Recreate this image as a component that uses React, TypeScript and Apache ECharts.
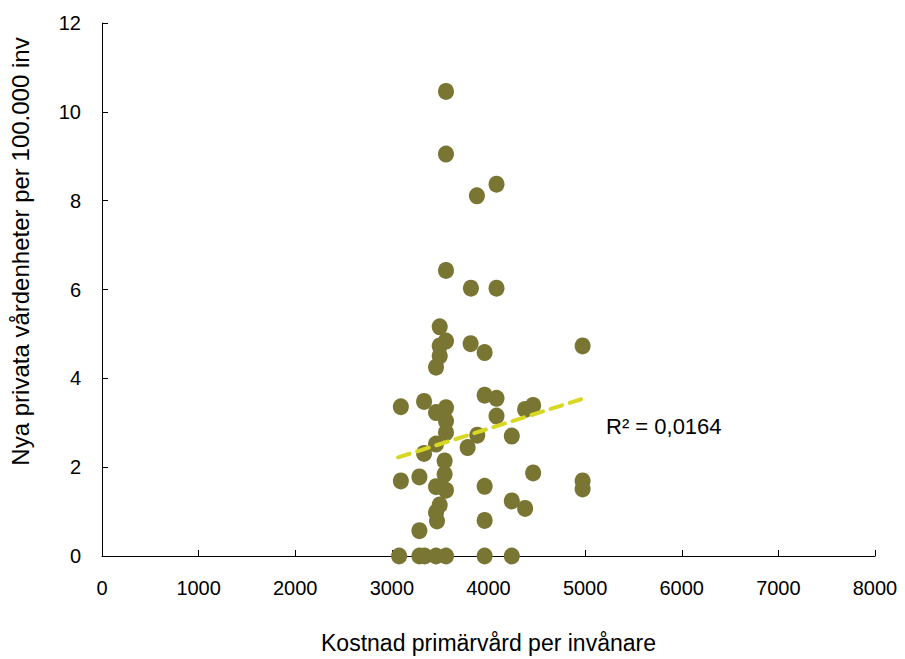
import React, { useEffect, useRef } from "react";
import * as echarts from "echarts";

const xValues: number[] = [
  3495, 3560, 3495, 3495, 3457, 3815, 3960, 4974, 3093, 3333,
  3457, 3560, 3560, 3560, 3457, 3960, 4083, 4083, 4379, 4462,
  3884, 3784, 4241, 3333, 3546, 3546, 3093, 3285, 3457, 3560,
  3960, 4462, 4974, 4974, 3495, 3457, 3467, 4241, 4379, 3960,
  3285, 3075, 3285, 3340, 3457, 3560, 3960, 4241, 3560, 3560,
  3880, 4083, 3560, 3818, 4083,
];
const yValues: number[] = [
  5.16, 4.84, 4.73, 4.5, 4.25, 4.78, 4.58, 4.73, 3.36, 3.48,
  3.23, 3.34, 3.04, 2.78, 2.52, 3.62, 3.55, 3.15, 3.3, 3.39,
  2.72, 2.44, 2.7, 2.31, 2.14, 1.84, 1.69, 1.78, 1.56, 1.48,
  1.57, 1.87, 1.69, 1.51, 1.15, 0.98, 0.79, 1.24, 1.07, 0.8,
  0.57, 0, 0, 0, 0, 0, 0, 0, 10.46, 9.05,
  8.11, 8.37, 6.43, 6.03, 6.03,
];
// Linear trend line (Excel), endpoints
const trendX: number[] = [3065, 4974];
const trendY: number[] = [2.22, 3.54];
const xTicks = [0, 1000, 2000, 3000, 4000, 5000, 6000, 7000, 8000];
const yTicks = [0, 2, 4, 6, 8, 10, 12];
const r2Label = "R² = 0,0164";
const xTitle = "Kostnad primärvård per invånare";
const yTitle = "Nya privata vårdenheter per 100.000 inv";

export default function App() {
  const ref = useRef<HTMLDivElement>(null);
  useEffect(() => {
    if (!ref.current) return;
    const chart = echarts.init(ref.current, undefined, { renderer: "svg" });
    const font = "'Liberation Sans', Arial, sans-serif";
    chart.setOption({
      animation: false,
      backgroundColor: "#ffffff",
      grid: { left: 99, right: 30, top: 23, bottom: 102, containLabel: false },
      xAxis: {
        type: "value",
        min: xTicks[0],
        max: xTicks[xTicks.length - 1],
        interval: 1000,
        name: xTitle,
        nameLocation: "middle",
        nameGap: 75,
        nameTextStyle: { color: "#000", fontSize: 23, fontFamily: font },
        axisLine: { show: true, lineStyle: { color: "#000", width: 1 } },
        axisTick: { show: true, inside: true, length: 6, lineStyle: { color: "#000" } },
        axisLabel: { color: "#000", fontSize: 20, fontFamily: font, margin: 22, formatter: (v: number) => String(v) },
        splitLine: { show: false },
      },
      yAxis: {
        type: "value",
        min: yTicks[0],
        max: yTicks[yTicks.length - 1],
        interval: 2,
        name: yTitle,
        nameLocation: "middle",
        nameGap: 70,
        nameRotate: 90,
        nameTextStyle: { color: "#000", fontSize: 24, fontFamily: font, padding: [0, 0, 0, 76] },
        axisLine: { show: true, lineStyle: { color: "#000", width: 1 } },
        axisTick: { show: true, inside: true, length: 6, lineStyle: { color: "#000" } },
        axisLabel: { color: "#000", fontSize: 20, fontFamily: font, margin: 21 },
        splitLine: { show: false },
      },
      series: [
        {
          type: "scatter",
          data: xValues.map((x, i) => [x, yValues[i]]),
          symbol: "circle",
          symbolSize: [16, 17],
          itemStyle: { color: "#787632", opacity: 1 },
          z: 2,
        },
        {
          type: "line",
          data: trendX.map((x, i) => [x, trendY[i]]),
          showSymbol: false,
          symbol: "none",
          lineStyle: { color: "#d8d824", width: 4, type: [12, 8], cap: "round" },
          z: 3,
        },
      ],
      graphic: [
        {
          type: "text",
          left: 606,
          top: 415,
          style: { text: r2Label, fontSize: 22, fontFamily: font, fill: "#000" },
        },
      ],
    });
    return () => chart.dispose();
  }, []);
  return <div ref={ref} style={{ width: 905, height: 659, position: "absolute", left: 0, top: 0 }} />;
}
